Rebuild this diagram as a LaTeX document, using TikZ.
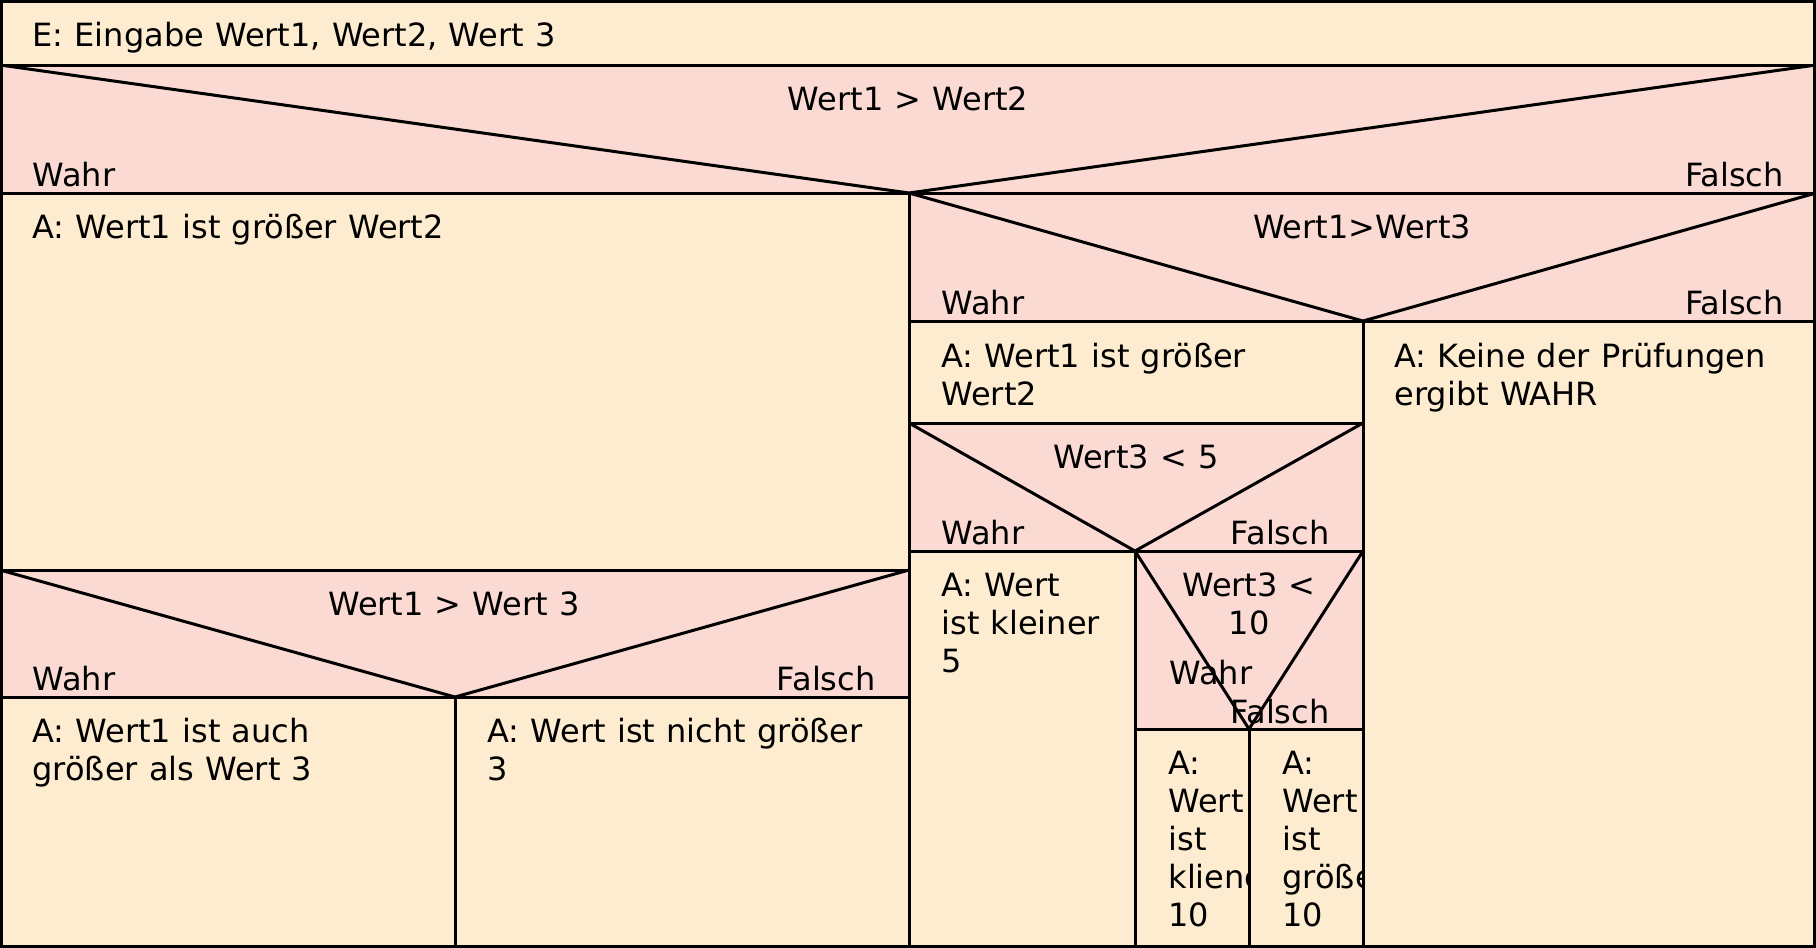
\documentclass[tikz,border=0pt]{standalone}
\usepackage{fontspec}
\setmainfont{DejaVu Sans}[WordSpace=1.1]
\definecolor{cellfill}{HTML}{FDECCF}
\definecolor{condfill}{HTML}{FADAD2}
\tikzset{
every node/.style={inner sep=0pt, font=\fontsize{32}{38}\selectfont, align=left},
cell/.style={fill=cellfill}, % action blocks
cond/.style={fill=condfill}, % decision blocks
txt/.style={anchor=base west}, % text of an action, base is the last line
yes/.style={anchor=base west}, % 'Wahr' label
no/.style={anchor=base east}, % 'Falsch' label
test/.style={anchor=base, align=center}, % condition text
}

\begin{document}
\begin{tikzpicture}[x=1pt, y=-1pt, line width=3pt] % one unit is one pixel, y runs downwards
\useasboundingbox (0,0) rectangle (1816,948);
% blocks
\fill[cell] (0,0) rectangle (1816,65);
\fill[cond] (0,65) rectangle (1816,193);
\fill[cell] (0,193) rectangle (909,570);
\fill[cond] (0,570) rectangle (909,697);
\fill[cell] (0,697) rectangle (909,948);
\fill[cond] (909,193) rectangle (1816,321);
\fill[cell] (909,321) rectangle (1816,948);
\fill[cond] (909,423) rectangle (1363,551);
\fill[cond] (1135,551) rectangle (1363,729);

% texts
\node[txt] (input) at (31,46) {E: Eingabe Wert1, Wert2, Wert 3};
\node[test] (test1) at (908,110) {Wert1 > Wert2};
\node[yes] (yes1) at (31,186) {Wahr};
\node[no] (no1) at (1785,186) {Falsch};
\node[txt] (act1) at (31,238) {A: Wert1 ist größer Wert2};
\node[test] (test2) at (1362,238) {Wert1>Wert3};
\node[yes] (yes2) at (940,314) {Wahr};
\node[no] (no2) at (1785,314) {Falsch};
\node[txt] (act2) at (940,405.5) {A: Wert1 ist größer\\Wert2};
\node[txt] (act3) at (1393,405.5) {A: Keine der Prüfungen\\ergibt WAHR};
\node[test] (test3) at (1136,468) {Wert3 < 5};
\node[yes] (yes3) at (940,544) {Wahr};
\node[no] (no3) at (1331,544) {Falsch};
\node[txt] (act4) at (940,672.5) {A: Wert\\ist kleiner\\5};
\node[test] (test4) at (1249,634.5) {Wert3 <\\10};
\node[yes] (yes4) at (1168,684) {Wahr};
\node[no] (no4) at (1331,723) {Falsch};
\begin{scope}
\clip (1135,729) rectangle (1249,948);
\node[txt] (act5) at (1167,926.5) {A:\\Wert\\ist\\kliener\\10};
\end{scope}
\begin{scope}
\clip (1249,729) rectangle (1363,948);
\node[txt] (act6) at (1281,926.5) {A:\\Wert\\ist\\größer\\10};
\end{scope}
\node[test] (test5) at (454,615) {Wert1 > Wert 3};
\node[yes] (yes5) at (31,690) {Wahr};
\node[no] (no5) at (877,690) {Falsch};
\node[txt] (act7) at (31,780.5) {A: Wert1 ist auch\\größer als Wert 3};
\node[txt] (act8) at (486,780.5) {A: Wert ist nicht größer\\3};

% borders
\draw (0,65) -- (1816,65);
\draw (0,193) -- (1816,193);
\draw (0,65) -- (909,193) -- (1816,65);
\draw (909,193) -- (909,948);
\draw (0,570) -- (909,570);
\draw (0,697) -- (909,697);
\draw (0,570) -- (455,697) -- (909,570);
\draw (455,697) -- (455,948);
\draw (909,321) -- (1816,321);
\draw (909,193) -- (1363,321) -- (1816,193);
\draw (1363,321) -- (1363,948);
\draw (909,423) -- (1363,423);
\draw (909,551) -- (1363,551);
\draw (909,423) -- (1135,551) -- (1363,423);
\draw (1135,551) -- (1135,948);
\draw (1135,729) -- (1363,729);
\draw (1135,551) -- (1249,729) -- (1363,551);
\draw (1249,729) -- (1249,948);
\draw (1.5,1.5) rectangle (1814.5,946.5);
\end{tikzpicture}
\end{document}
